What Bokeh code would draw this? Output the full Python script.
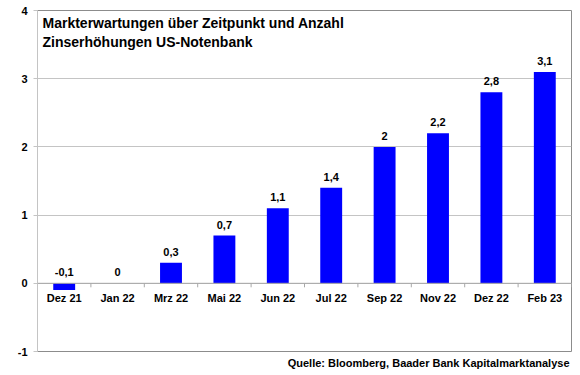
import math
from bokeh.plotting import figure
from bokeh.models import Range1d, Span, Title, FixedTicker, ColumnDataSource
from bokeh.core.properties import value
from bokeh.embed import file_html
from bokeh.resources import INLINE

# ---- data ----
categories = ["Dez 21", "Jan 22", "Mrz 22", "Mai 22", "Jun 22", "Jul 22",
              "Sep 22", "Nov 22", "Dez 22", "Feb 23"]
hikes = [-0.1, 0.0, 0.3, 0.7, 1.1, 1.4, 2.0, 2.2, 2.8, 3.1]
y_ticks = [-1, 0, 1, 2, 3, 4]
y_tick_labels = ["-1", "0", "1", "2", "3", "4"]
title_lines = ["Markterwartungen über Zeitpunkt und Anzahl",
               "Zinserhöhungen US-Notenbank"]
source_text = "Quelle: Bloomberg, Baader Bank Kapitalmarktanalyse"

FONT = "Liberation Sans"

p = figure(x_range=categories, y_range=Range1d(-1, 4),
           width=572, height=372, output_backend="svg", toolbar_location=None,
           min_border_left=37, min_border_right=1, min_border_top=10,
           min_border_bottom=21)
p.background_fill_color = "white"
p.border_fill_color = "white"
p.outline_line_color = "#8c8c8c"
p.outline_line_width = 1

p.xaxis.visible = False
p.xgrid.visible = False
p.ygrid.grid_line_color = "#c4c4c4"
p.ygrid.grid_line_width = 1

ya = p.yaxis[0]
ya.ticker = FixedTicker(ticks=y_ticks)
ya.major_label_overrides = {t: s for t, s in zip(y_ticks, y_tick_labels)}
ya.major_label_text_font = FONT
ya.major_label_text_font_style = "bold"
ya.major_label_text_font_size = "11px"
ya.major_label_text_color = "black"
ya.axis_line_color = "#c4c4c4"
ya.major_tick_line_color = "#c4c4c4"
ya.major_tick_out = 4
ya.major_tick_in = 0
ya.minor_tick_line_color = None
ya.major_label_standoff = 6

# zero line with category-boundary ticks
p.add_layout(Span(location=0, dimension="width", line_color="#a8a8a8", line_width=1))
bounds = list(range(len(categories) + 1))
p.ray(x=bounds, y=[0] * len(bounds), length=4, length_units="screen",
      angle=-math.pi / 2, line_color="#a8a8a8", line_width=1)

# bars
src = ColumnDataSource(dict(
    cat=categories,
    val=hikes,
    lab_y=[max(v, 0) for v in hikes],
    lab=[f"{v:g}".replace(".", ",") for v in hikes],
))
p.vbar(x="cat", top="val", bottom=0, width=0.41, source=src,
       fill_color="#0000FF", line_color=None)

# value labels
p.text(x="cat", y="lab_y", text="lab", y_offset=-11, source=src,
       text_align="center", text_baseline="alphabetic",
       text_font=value(FONT), text_font_style="bold", text_font_size="11px",
       text_color="black")

# category labels under zero line
p.text(x="cat", y=0, text="cat", y_offset=15, source=src,
       text_align="center", text_baseline="alphabetic",
       text_font=value(FONT), text_font_style="bold", text_font_size="11px",
       text_color="black")

# title inside plot area
p.text(x=[0, 0], y=[4, 4], text=title_lines, x_offset=5, y_offset=[12, 31],
       text_align="left", text_baseline="alphabetic",
       text_font=value(FONT), text_font_style="bold", text_font_size="14px",
       text_color="black")

# source note below the plot area
p.add_layout(Title(text=source_text, align="right", offset=2, standoff=6,
                   text_font=FONT, text_font_style="bold",
                   text_font_size="11px", text_color="black"), "below")

open("out.html", "w").write(file_html(p, INLINE))
